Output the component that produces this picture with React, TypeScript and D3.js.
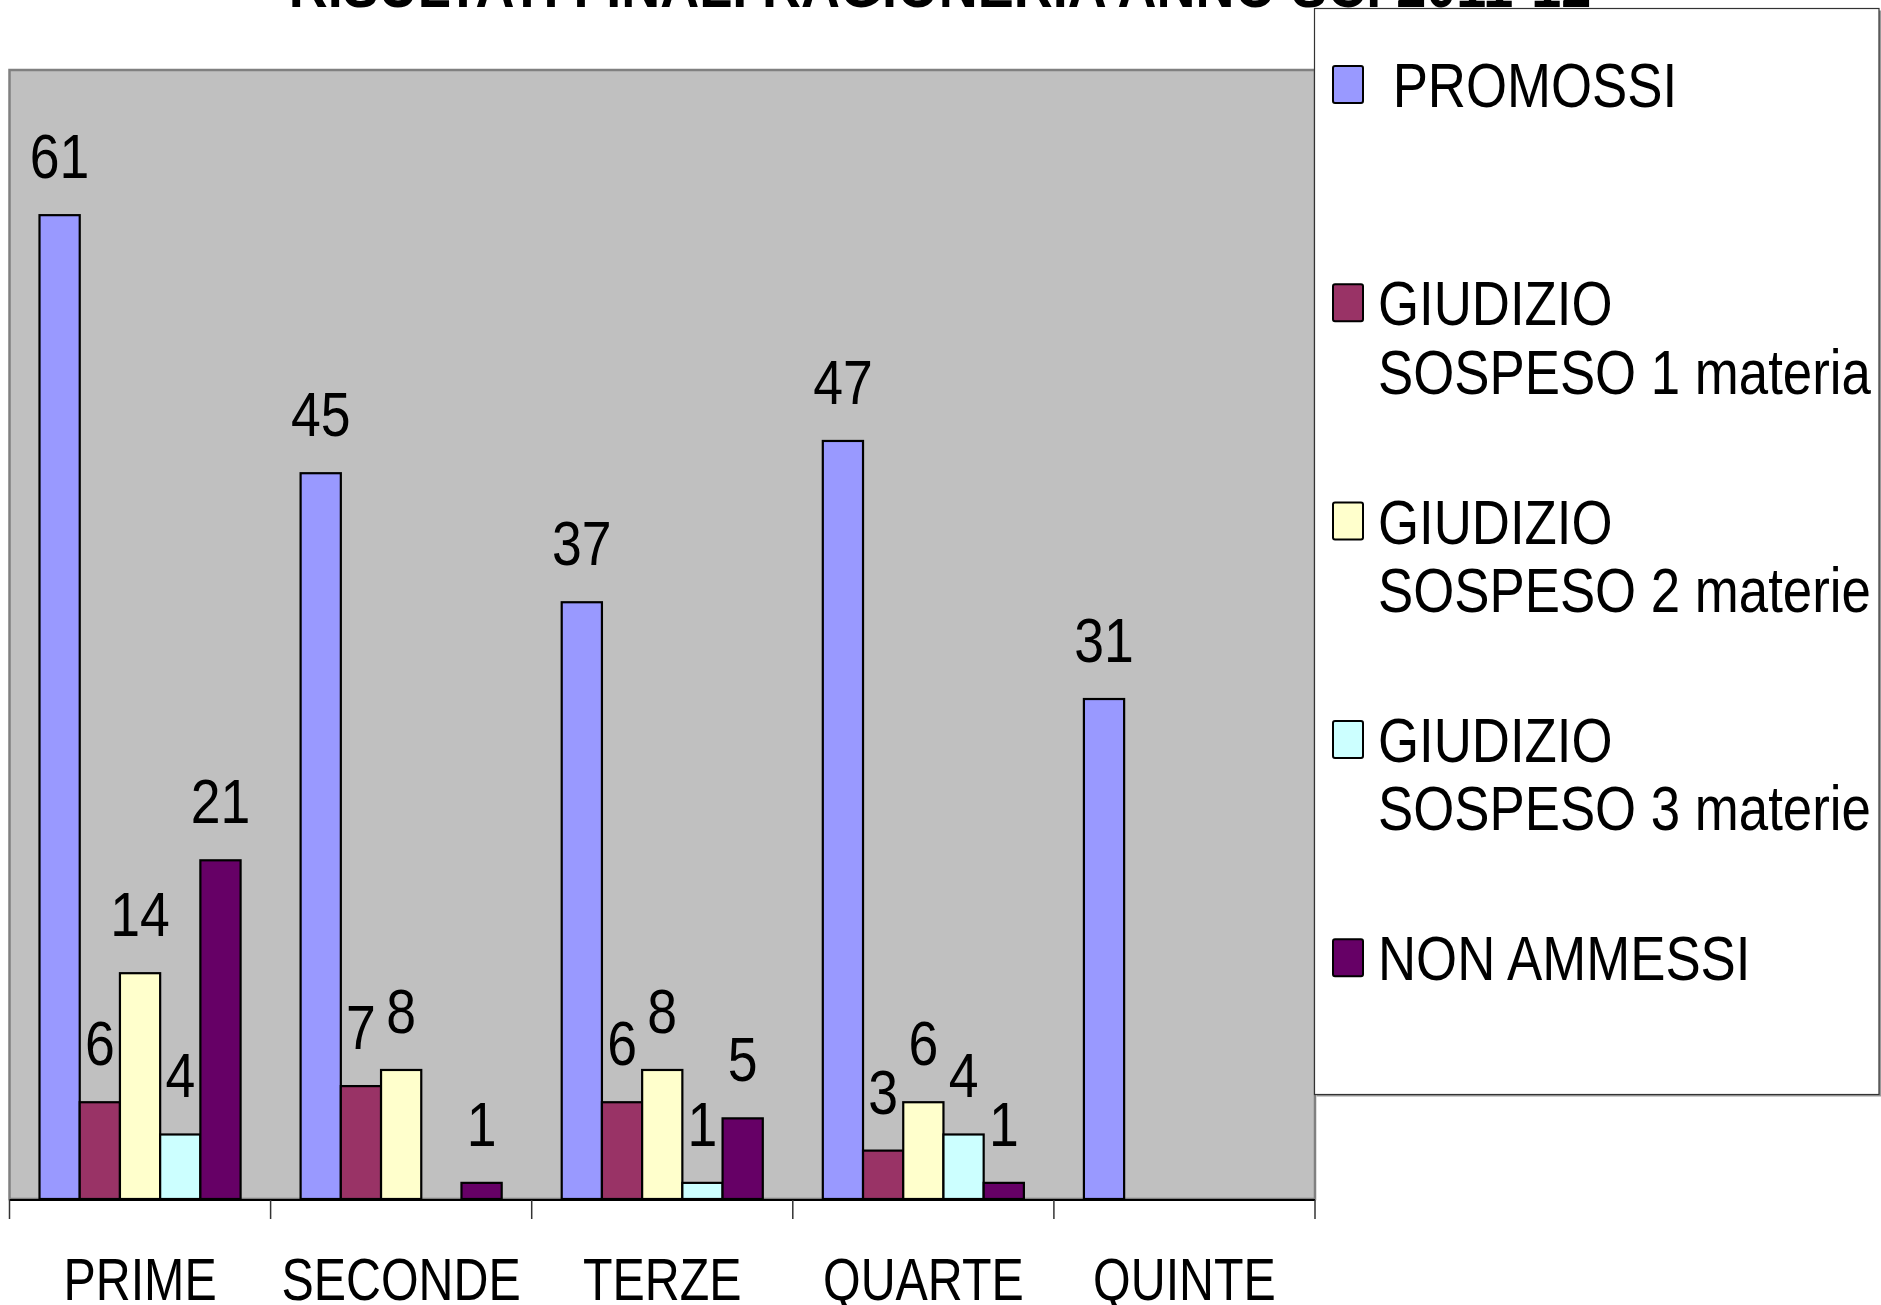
import React from "react";
import * as d3 from "d3";

const title = "RISULTATI FINALI RAGIONERIA ANNO SC. 2011-12";
const categories = ["PRIME", "SECONDE", "TERZE", "QUARTE", "QUINTE"];
const seriesNames = [
  ["PROMOSSI"],
  ["GIUDIZIO", "SOSPESO 1 materia"],
  ["GIUDIZIO", "SOSPESO 2 materie"],
  ["GIUDIZIO", "SOSPESO 3 materie"],
  ["NON AMMESSI"],
];
const seriesColors = ["#9999FF", "#993366", "#FFFFCC", "#CCFFFF", "#660066"];
const promossi = [61, 45, 37, 47, 31];
const sospeso1 = [6, 7, 6, 3, 0];
const sospeso2 = [14, 8, 8, 6, 0];
const sospeso3 = [4, 0, 1, 4, 0];
const nonAmmessi = [21, 1, 5, 1, 0];
const seriesValues = [promossi, sospeso1, sospeso2, sospeso3, nonAmmessi];
const yMax = 70;

const W = 1881;
const H = 1305;
const plot = { left: 9.5, right: 1315, top: 70, bottom: 1199 };
const FONT = "'Liberation Sans', Arial, sans-serif";

function CText({ x, y, size, sx = 0.85, anchor = "middle", weight = "normal", children }: any) {
  return (
    <g transform={`translate(${x},${y}) scale(${sx},1)`}>
      <text textAnchor={anchor} fontSize={size} fontWeight={weight} fill="#000" fontFamily={FONT}>
        {children}
      </text>
    </g>
  );
}

export default function App() {
  const x = d3.scaleBand<string>().domain(categories).range([plot.left, plot.right]).padding(0);
  const step = x.step();
  const gap = (step * 60) / 261;
  const inner = d3
    .scaleBand<number>()
    .domain(d3.range(seriesValues.length))
    .range([gap / 2, step - gap / 2])
    .padding(0);
  const y = d3.scaleLinear().domain([0, yMax]).range([plot.bottom, plot.top]);

  const ticks = d3.range(categories.length + 1).map((i) => plot.left + i * step);

  const legendX = 1314.5;
  const legendTop = 8.5;
  const legendW = 1879 - 1314.5;
  const legendH = 1094.5 - 8.5;
  const legendBase0 = 107;
  const legendStep = 218.3;
  const lineH = 68.5;

  return (
    <svg
      width={W}
      height={H}
      style={{ position: "absolute", left: 0, top: 0, background: "#fff" }}
    >
      {/* title */}
      <CText x={940} y={7} size={62} sx={0.87} weight="bold">
        {title}
      </CText>

      {/* plot area */}
      <rect
        x={plot.left}
        y={plot.top}
        width={plot.right - plot.left}
        height={plot.bottom - plot.top}
        fill="#C0C0C0"
        stroke="#808080"
        strokeWidth={2.5}
      />

      {/* bars */}
      {seriesValues.map((vals, s) =>
        vals.map((v, c) =>
          v > 0 ? (
            <rect
              key={`b${s}-${c}`}
              x={(x(categories[c]) as number) + (inner(s) as number)}
              y={y(v)}
              width={inner.bandwidth()}
              height={y(0) - y(v)}
              fill={seriesColors[s]}
              stroke="#000"
              strokeWidth={2.2}
            />
          ) : null
        )
      )}

      {/* value labels */}
      {seriesValues.map((vals, s) =>
        vals.map((v, c) =>
          v > 0 ? (
            <CText
              key={`l${s}-${c}`}
              x={(x(categories[c]) as number) + (inner(s) as number) + inner.bandwidth() / 2}
              y={y(v) - 37}
              size={63}
            >
              {String(v)}
            </CText>
          ) : null
        )
      )}

      {/* x axis */}
      <line x1={plot.left} x2={plot.right} y1={1200} y2={1200} stroke="#000" strokeWidth={2} />
      {ticks.map((t, i) => (
        <line key={`t${i}`} x1={t} x2={t} y1={1200} y2={1219} stroke="#333" strokeWidth={1.5} />
      ))}
      {categories.map((c) => (
        <CText key={c} x={(x(c) as number) + step / 2} y={1300} size={59} sx={0.82}>
          {c}
        </CText>
      ))}

      {/* legend */}
      <rect x={legendX + 2} y={legendTop + 2} width={legendW} height={legendH} fill="#999" />
      <rect
        x={legendX}
        y={legendTop}
        width={legendW}
        height={legendH}
        fill="#fff"
        stroke="#333"
        strokeWidth={1.2}
      />
      {seriesNames.map((lines, i) => {
        const base = legendBase0 + i * legendStep;
        return (
          <g key={`lg${i}`}>
            <rect
              x={1333}
              y={base - 41}
              width={30}
              height={37}
              rx={2}
              fill={seriesColors[i]}
              stroke="#000"
              strokeWidth={2}
            />
            {lines.map((ln, j) => (
              <CText key={j} x={1378} y={base + j * lineH} size={63} sx={0.838} anchor="start">
                {i === 0 ? "\u00A0" + ln : ln}
              </CText>
            ))}
          </g>
        );
      })}
    </svg>
  );
}
